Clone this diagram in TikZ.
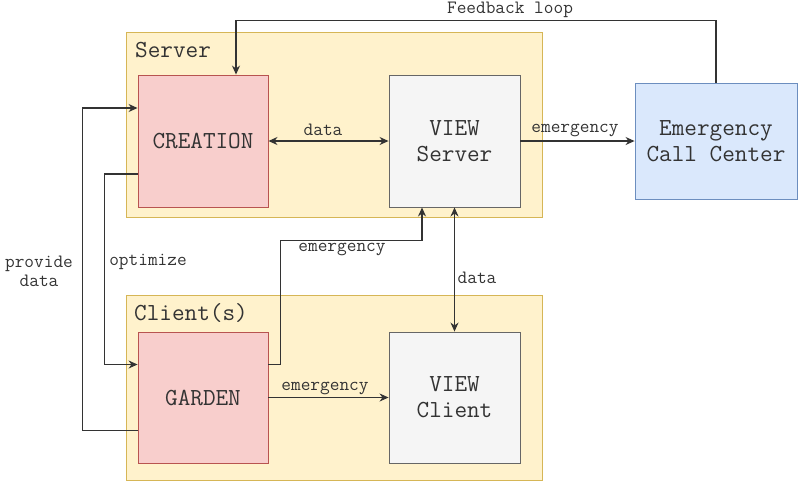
\documentclass[tikz,border=0pt]{standalone}
\usepackage{fontspec}
\usetikzlibrary{arrows.meta}
\definecolor{txt}{HTML}{333333}
\definecolor{lnc}{HTML}{333333}
\definecolor{contfill}{HTML}{FFF2CC}
\definecolor{contline}{HTML}{D6B656}
\definecolor{redfill}{HTML}{F8CECC}
\definecolor{redline}{HTML}{B85450}
\definecolor{grayfill}{HTML}{F5F5F5}
\definecolor{grayline}{HTML}{666666}
\definecolor{bluefill}{HTML}{DAE8FC}
\definecolor{blueline}{HTML}{6C8EBF}
\begin{document}
\begin{tikzpicture}[x=1pt,y=-1pt,
  every node/.style={text=txt},
  container/.style={draw=contline,fill=contfill,line width=0.9pt,inner sep=0pt},
  boxbase/.style={line width=0.9pt,inner sep=0pt,align=center,
    font=\ttfamily\fontsize{24.5}{26}\selectfont},
  redbox/.style={boxbase,draw=redline,fill=redfill},
  graybox/.style={boxbase,draw=grayline,fill=grayfill},
  bluebox/.style={boxbase,draw=blueline,fill=bluefill},
  title/.style={anchor=west,inner sep=0pt,font=\ttfamily\fontsize{24.5}{26}\selectfont},
  elabel/.style={inner sep=0pt,align=center,font=\ttfamily\fontsize{18.8}{19}\selectfont},
  arr/.style={draw=lnc,line width=1.2pt,-{Stealth[length=9pt,width=8pt]}},
  arrboth/.style={draw=lnc,line width=1.2pt,{Stealth[length=9pt,width=8pt]}-{Stealth[length=9pt,width=8pt]}}]
\useasboundingbox (0,0) rectangle (799,483);

% containers
\node[container,minimum width=416pt,minimum height=185pt] (server) at (334,124.5) {};
\node[title] (servertitle) at (135,50) {Server};
\node[container,minimum width=416pt,minimum height=185pt] (client) at (334,387.5) {};
\node[title] (clienttitle) at (134,313) {Client(s)};

% components
\node[redbox,minimum width=130pt,minimum height=132pt] (creation) at (203,141) {CREATION};
\node[graybox,minimum width=131pt,minimum height=132pt] (viewserver) at (454.5,141) {VIEW\\Server};
\node[bluebox,minimum width=162pt,minimum height=116pt] (ecc) at (716,141) {Emergency\\Call Center};
\node[redbox,minimum width=130pt,minimum height=131pt] (garden) at (203,397.5) {GARDEN};
\node[graybox,minimum width=131pt,minimum height=131pt] (viewclient) at (454.5,397.5) {VIEW\\Client};

% connectors
\draw[arr] (ecc.north) -- ++(0,-62) -| ([xshift=33pt]creation.north);
\node[elabel] (lfeedback) at (510,10) {Feedback loop};

\draw[arrboth] (creation.east) -- (viewserver.west);
\node[elabel] (ldata1) at (323,130) {data};

\draw[arr] (viewserver.east) -- (ecc.west);
\node[elabel] (lemerg1) at (575,130) {emergency};

\draw[arr] ([yshift=-33pt]creation.west) -- ++(-33,0) |- ([yshift=33pt]garden.west);
\node[elabel] (loptimize) at (148,262) {optimize};

\draw[arr] ([yshift=-33pt]garden.west) -- ++(-55,0) |- ([yshift=33pt]creation.west);
\node[elabel] (lprovide) at (39,271) {provide\\data};

\draw[arr] ([yshift=33pt]garden.east) -- ++(12,0) |- ([xshift=-32.5pt,yshift=-33pt]viewserver.south) -- ([xshift=-32.5pt]viewserver.south);
\node[elabel] (lemerg2) at (342,249) {emergency};

\draw[arrboth] (viewserver.south) -- (viewclient.north);
\node[elabel] (ldata2) at (477,278) {data};

\draw[arr] (garden.east) -- (viewclient.west);
\node[elabel] (lemerg3) at (325,388) {emergency};
\end{tikzpicture}
\end{document}
